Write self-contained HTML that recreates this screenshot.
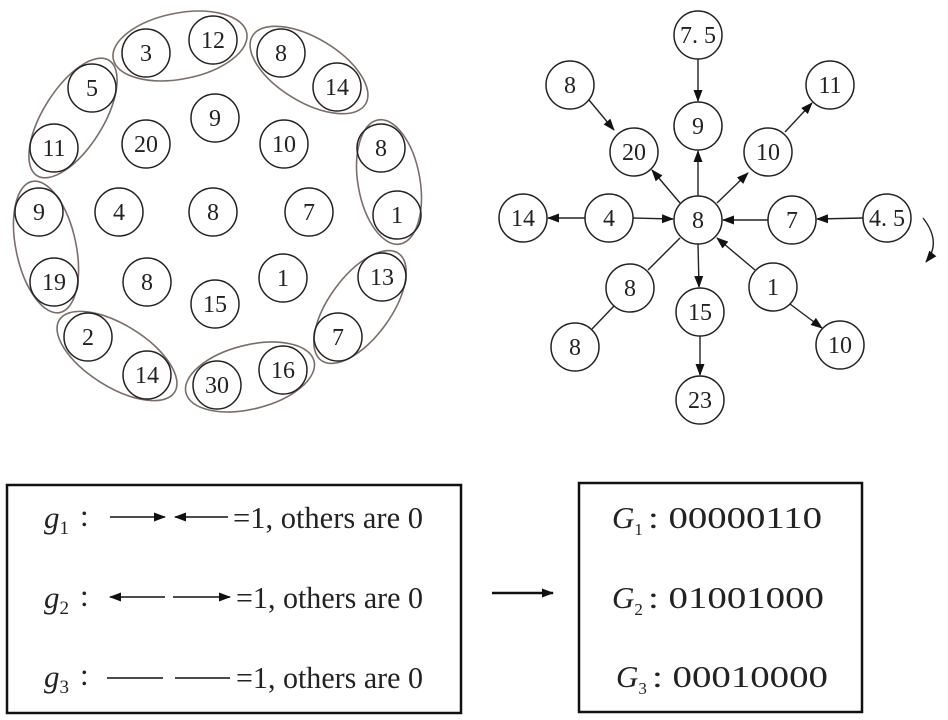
<!DOCTYPE html>
<html><head><meta charset="utf-8"><style>body{margin:0;background:#fff}svg{display:block}</style></head><body>
<svg width="948" height="720" viewBox="0 0 948 720" xmlns="http://www.w3.org/2000/svg" font-family="Liberation Serif, serif">
<defs><marker id="a" markerWidth="12" markerHeight="9" refX="11" refY="4.5" orient="auto" markerUnits="userSpaceOnUse"><path d="M0,0 L12,4.5 L0,9 z" fill="#111"/></marker></defs>
<g fill="none" stroke="#7a6e6a" stroke-width="1.6">
<ellipse cx="180" cy="46" rx="68" ry="33" transform="rotate(-11 180 46)"/>
<ellipse cx="309" cy="70" rx="66" ry="32" transform="rotate(31 309 70)"/>
<ellipse cx="73" cy="118" rx="68" ry="30" transform="rotate(-58 73 118)"/>
<ellipse cx="389" cy="182" rx="63" ry="31" transform="rotate(80 389 182)"/>
<ellipse cx="46" cy="247" rx="67" ry="30" transform="rotate(78 46 247)"/>
<ellipse cx="360" cy="307" rx="66" ry="31" transform="rotate(-54 360 307)"/>
<ellipse cx="117" cy="356" rx="68" ry="31" transform="rotate(32 117 356)"/>
<ellipse cx="250" cy="377" rx="66" ry="32" transform="rotate(-14 250 377)"/>
</g>
<g fill="none" stroke="#222" stroke-width="1.5">
<circle cx="146" cy="53" r="24"/><circle cx="213" cy="40" r="24"/><circle cx="281" cy="53" r="24"/><circle cx="337" cy="87" r="24"/>
<circle cx="92" cy="88" r="24"/><circle cx="54" cy="148" r="24"/><circle cx="146" cy="144" r="24"/><circle cx="215" cy="118" r="24"/>
<circle cx="284" cy="144" r="24"/><circle cx="381" cy="148" r="24"/><circle cx="39" cy="212" r="24"/><circle cx="119" cy="212" r="24"/>
<circle cx="213" cy="212" r="24"/><circle cx="309" cy="212" r="24"/><circle cx="397" cy="215" r="24"/><circle cx="54" cy="282" r="24"/>
<circle cx="147" cy="282" r="24"/><circle cx="215" cy="304" r="24"/><circle cx="283" cy="278" r="24"/><circle cx="382" cy="277" r="24"/>
<circle cx="338" cy="337" r="24"/><circle cx="88" cy="337" r="24"/><circle cx="147" cy="375" r="24"/><circle cx="217" cy="385" r="24"/><circle cx="283" cy="370" r="24"/>
</g>
<g font-size="24" text-anchor="middle" fill="#222">
<text x="146" y="61">3</text><text x="213" y="48">12</text><text x="281" y="61">8</text><text x="337" y="95">14</text>
<text x="92" y="96">5</text><text x="54" y="156">11</text><text x="146" y="152">20</text><text x="215" y="126">9</text>
<text x="284" y="152">10</text><text x="381" y="156">8</text><text x="39" y="220">9</text><text x="119" y="220">4</text>
<text x="213" y="220">8</text><text x="309" y="220">7</text><text x="397" y="223">1</text><text x="54" y="290">19</text>
<text x="147" y="290">8</text><text x="215" y="312">15</text><text x="283" y="286">1</text><text x="382" y="285">13</text>
<text x="338" y="345">7</text><text x="88" y="345">2</text><text x="147" y="383">14</text><text x="217" y="393">30</text><text x="283" y="378">16</text>
</g>
<g stroke="#222" stroke-width="1.4">
<line x1="698" y1="59" x2="698" y2="101" marker-end="url(#a)"/>
<line x1="589" y1="100" x2="614" y2="130" marker-end="url(#a)"/>
<line x1="680" y1="203" x2="652" y2="170" marker-end="url(#a)"/>
<line x1="698" y1="196" x2="698" y2="151" marker-end="url(#a)"/>
<line x1="717" y1="203" x2="748" y2="173" marker-end="url(#a)"/>
<line x1="785" y1="132" x2="812" y2="103" marker-end="url(#a)"/>
<line x1="585" y1="218" x2="548" y2="218" marker-end="url(#a)"/>
<line x1="633" y1="218" x2="673" y2="219" marker-end="url(#a)"/>
<line x1="768" y1="220" x2="723" y2="220" marker-end="url(#a)"/>
<line x1="863" y1="218" x2="817" y2="219" marker-end="url(#a)"/>
<line x1="755" y1="270" x2="717" y2="238" marker-end="url(#a)"/>
<line x1="790" y1="304" x2="822" y2="328" marker-end="url(#a)"/>
<line x1="698" y1="244" x2="699" y2="287" marker-end="url(#a)"/>
<line x1="700" y1="336" x2="700" y2="375" marker-end="url(#a)"/>
<line x1="680" y1="238" x2="648" y2="270"/>
<line x1="614" y1="306" x2="592" y2="329"/>
<path d="M923,218 Q942,242 926,262" fill="none" marker-end="url(#a)"/>
</g>
<g fill="none" stroke="#222" stroke-width="1.5">
<circle cx="698" cy="35" r="24"/><circle cx="570" cy="85" r="24"/><circle cx="698" cy="126" r="24"/><circle cx="830" cy="85" r="24"/>
<circle cx="634" cy="152" r="24"/><circle cx="768" cy="152" r="24"/><circle cx="523" cy="218" r="24"/><circle cx="609" cy="218" r="24"/>
<circle cx="698" cy="220" r="24"/><circle cx="792" cy="220" r="24"/><circle cx="887" cy="218" r="24"/><circle cx="630" cy="288" r="24"/>
<circle cx="700" cy="312" r="24"/><circle cx="773" cy="287" r="24"/><circle cx="575" cy="347" r="24"/><circle cx="840" cy="345" r="24"/><circle cx="700" cy="400" r="24"/>
</g>
<g font-size="24" text-anchor="middle" fill="#222">
<text x="698" y="43">7. 5</text><text x="570" y="93">8</text><text x="698" y="134">9</text><text x="830" y="93">11</text>
<text x="634" y="160">20</text><text x="768" y="160">10</text><text x="523" y="226">14</text><text x="609" y="226">4</text>
<text x="698" y="228">8</text><text x="792" y="228">7</text><text x="887" y="226">4. 5</text><text x="630" y="296">8</text>
<text x="700" y="320">15</text><text x="773" y="295">1</text><text x="575" y="355">8</text><text x="840" y="353">10</text><text x="700" y="408">23</text>
</g>
<rect x="7" y="485" width="454" height="228" fill="none" stroke="#111" stroke-width="2.5"/>
<rect x="579" y="483" width="283" height="229" fill="none" stroke="#111" stroke-width="2.5"/>
<g stroke="#111" stroke-width="1.6">
<line x1="110" y1="517" x2="165" y2="517" marker-end="url(#a)"/>
<line x1="228" y1="517" x2="175" y2="517" marker-end="url(#a)"/>
<line x1="165" y1="597" x2="110" y2="597" marker-end="url(#a)"/>
<line x1="173" y1="597" x2="230" y2="597" marker-end="url(#a)"/>
<line x1="107" y1="678" x2="163" y2="678"/>
<line x1="175" y1="678" x2="230" y2="678"/>
<line x1="492" y1="593" x2="553" y2="593" stroke-width="2.6" marker-end="url(#a)"/>
</g>
<g font-size="31" fill="#222">
<text x="44" y="528" font-style="italic">g<tspan font-size="19" font-style="normal" dy="6">1</tspan></text><text x="80" y="526">:</text>
<text x="44" y="608" font-style="italic">g<tspan font-size="19" font-style="normal" dy="6">2</tspan></text><text x="80" y="606">:</text>
<text x="44" y="687" font-style="italic">g<tspan font-size="19" font-style="normal" dy="6">3</tspan></text><text x="80" y="685">:</text>
<text x="233" y="528" textLength="190" lengthAdjust="spacingAndGlyphs">=1, others are 0</text>
<text x="236" y="608" textLength="187" lengthAdjust="spacingAndGlyphs">=1, others are 0</text>
<text x="236" y="688" textLength="187" lengthAdjust="spacingAndGlyphs">=1, others are 0</text>
<text x="612" y="528" font-style="italic">G<tspan font-size="17" font-style="normal" dy="7">1</tspan></text><text x="648" y="528" textLength="174" lengthAdjust="spacingAndGlyphs">: 00000110</text>
<text x="612" y="608" font-style="italic">G<tspan font-size="17" font-style="normal" dy="7">2</tspan></text><text x="648" y="608" textLength="176" lengthAdjust="spacingAndGlyphs">: 01001000</text>
<text x="616" y="687" font-style="italic">G<tspan font-size="17" font-style="normal" dy="7">3</tspan></text><text x="652" y="687" textLength="176" lengthAdjust="spacingAndGlyphs">: 00010000</text>
</g>
</svg>
</body></html>
